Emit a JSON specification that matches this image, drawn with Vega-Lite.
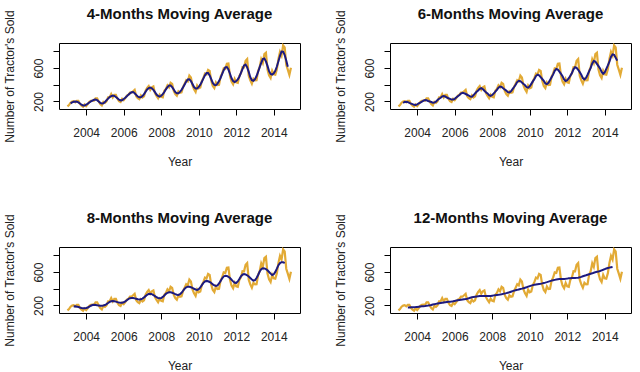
{
"$schema":"https://vega.github.io/schema/vega-lite/v6.json",
"padding":{"left":2,"top":6,"right":0,"bottom":0},
"datasets":{"sales":[
{"t":2003.0,"v":141},{"t":2003.0833,"v":157},{"t":2003.1667,"v":185},{"t":2003.25,"v":199},{"t":2003.3333,"v":203},{"t":2003.4167,"v":189},{"t":2003.5,"v":207},{"t":2003.5833,"v":207},{"t":2003.6667,"v":171},{"t":2003.75,"v":150},{"t":2003.8333,"v":138},{"t":2003.9167,"v":165},
{"t":2004.0,"v":145},{"t":2004.0833,"v":168},{"t":2004.1667,"v":197},{"t":2004.25,"v":208},{"t":2004.3333,"v":210},{"t":2004.4167,"v":209},{"t":2004.5,"v":238},{"t":2004.5833,"v":238},{"t":2004.6667,"v":199},{"t":2004.75,"v":168},{"t":2004.8333,"v":152},{"t":2004.9167,"v":196},
{"t":2005.0,"v":183},{"t":2005.0833,"v":200},{"t":2005.1667,"v":249},{"t":2005.25,"v":251},{"t":2005.3333,"v":289},{"t":2005.4167,"v":249},{"t":2005.5,"v":279},{"t":2005.5833,"v":279},{"t":2005.6667,"v":232},{"t":2005.75,"v":204},{"t":2005.8333,"v":194},{"t":2005.9167,"v":232},
{"t":2006.0,"v":215},{"t":2006.0833,"v":239},{"t":2006.1667,"v":270},{"t":2006.25,"v":279},{"t":2006.3333,"v":307},{"t":2006.4167,"v":305},{"t":2006.5,"v":322},{"t":2006.5833,"v":339},{"t":2006.6667,"v":263},{"t":2006.75,"v":241},{"t":2006.8333,"v":229},{"t":2006.9167,"v":272},
{"t":2007.0,"v":247},{"t":2007.0833,"v":261},{"t":2007.1667,"v":330},{"t":2007.25,"v":362},{"t":2007.3333,"v":385},{"t":2007.4167,"v":340},{"t":2007.5,"v":370},{"t":2007.5833,"v":381},{"t":2007.6667,"v":299},{"t":2007.75,"v":266},{"t":2007.8333,"v":239},{"t":2007.9167,"v":281},
{"t":2008.0,"v":257},{"t":2008.0833,"v":250},{"t":2008.1667,"v":329},{"t":2008.25,"v":350},{"t":2008.3333,"v":393},{"t":2008.4167,"v":370},{"t":2008.5,"v":423},{"t":2008.5833,"v":410},{"t":2008.6667,"v":326},{"t":2008.75,"v":289},{"t":2008.8333,"v":270},{"t":2008.9167,"v":321},
{"t":2009.0,"v":305},{"t":2009.0833,"v":310},{"t":2009.1667,"v":374},{"t":2009.25,"v":414},{"t":2009.3333,"v":454},{"t":2009.4167,"v":441},{"t":2009.5,"v":510},{"t":2009.5833,"v":486},{"t":2009.6667,"v":393},{"t":2009.75,"v":345},{"t":2009.8333,"v":315},{"t":2009.9167,"v":389},
{"t":2010.0,"v":358},{"t":2010.0833,"v":368},{"t":2010.1667,"v":444},{"t":2010.25,"v":482},{"t":2010.3333,"v":534},{"t":2010.4167,"v":524},{"t":2010.5,"v":578},{"t":2010.5833,"v":567},{"t":2010.6667,"v":447},{"t":2010.75,"v":386},{"t":2010.8333,"v":360},{"t":2010.9167,"v":428},
{"t":2011.0,"v":397},{"t":2011.0833,"v":400},{"t":2011.1667,"v":498},{"t":2011.25,"v":536},{"t":2011.3333,"v":596},{"t":2011.4167,"v":591},{"t":2011.5,"v":651},{"t":2011.5833,"v":654},{"t":2011.6667,"v":509},{"t":2011.75,"v":437},{"t":2011.8333,"v":406},{"t":2011.9167,"v":470},
{"t":2012.0,"v":428},{"t":2012.0833,"v":423},{"t":2012.1667,"v":507},{"t":2012.25,"v":536},{"t":2012.3333,"v":610},{"t":2012.4167,"v":609},{"t":2012.5,"v":687},{"t":2012.5833,"v":707},{"t":2012.6667,"v":509},{"t":2012.75,"v":452},{"t":2012.8333,"v":412},{"t":2012.9167,"v":472},
{"t":2013.0,"v":454},{"t":2013.0833,"v":455},{"t":2013.1667,"v":568},{"t":2013.25,"v":610},{"t":2013.3333,"v":706},{"t":2013.4167,"v":661},{"t":2013.5,"v":767},{"t":2013.5833,"v":783},{"t":2013.6667,"v":583},{"t":2013.75,"v":513},{"t":2013.8333,"v":481},{"t":2013.9167,"v":567},
{"t":2014.0,"v":525},{"t":2014.0833,"v":520},{"t":2014.1667,"v":587},{"t":2014.25,"v":710},{"t":2014.3333,"v":793},{"t":2014.4167,"v":749},{"t":2014.5,"v":871},{"t":2014.5833,"v":848},{"t":2014.6667,"v":640},{"t":2014.75,"v":581},{"t":2014.8333,"v":519},{"t":2014.9167,"v":605}
]},
"columns":2,
"spacing":{"row":42,"column":32},
"concat":[
{"width":241,"height":66,"data":{"name":"sales"},"title":"4-Months Moving Average",
 "resolve":{"axis":{"y":"independent"}},
 "layer":[
  {"mark":{"type":"line","color":"#E2AA35","strokeWidth":2.2},
   "encoding":{"x":{"field":"t","type":"quantitative","scale":{"domain":[2002.55,2015.4],"nice":false,"zero":false},"axis":{"title":"Year","values":[2004,2006,2008,2010,2012,2014],"format":"d"}},
    "y":{"field":"v","type":"quantitative","scale":{"domain":[110,900],"nice":false,"zero":false},"axis":{"title":"Number of Tractor's Sold","values":[200,600],"labelOverlap":false}}}},
  {"transform":[
    {"window":[{"op":"mean","field":"v","as":"a"},{"op":"count","as":"c"}],"frame":[-2,1],"sort":[{"field":"t"}]},
    {"filter":{"field":"c","equal":4}},
    {"window":[{"op":"mean","field":"a","as":"ma"},{"op":"count","as":"c2"}],"frame":[0,1],"sort":[{"field":"t"}]},
    {"filter":{"field":"c2","equal":2}}],
   "mark":{"type":"line","color":"#1C1A80","strokeWidth":2},
   "encoding":{"x":{"field":"t","type":"quantitative"},"y":{"field":"ma","type":"quantitative","axis":{"orient":"left","values":[400,800],"labels":false,"title":null}}}}
 ]},
{"width":241,"height":66,"data":{"name":"sales"},"title":"6-Months Moving Average",
 "resolve":{"axis":{"y":"independent"}},
 "layer":[
  {"mark":{"type":"line","color":"#E2AA35","strokeWidth":2.2},
   "encoding":{"x":{"field":"t","type":"quantitative","scale":{"domain":[2002.55,2015.4],"nice":false,"zero":false},"axis":{"title":"Year","values":[2004,2006,2008,2010,2012,2014],"format":"d"}},
    "y":{"field":"v","type":"quantitative","scale":{"domain":[110,900],"nice":false,"zero":false},"axis":{"title":"Number of Tractor's Sold","values":[200,600],"labelOverlap":false}}}},
  {"transform":[
    {"window":[{"op":"mean","field":"v","as":"a"},{"op":"count","as":"c"}],"frame":[-3,2],"sort":[{"field":"t"}]},
    {"filter":{"field":"c","equal":6}},
    {"window":[{"op":"mean","field":"a","as":"ma"},{"op":"count","as":"c2"}],"frame":[0,1],"sort":[{"field":"t"}]},
    {"filter":{"field":"c2","equal":2}}],
   "mark":{"type":"line","color":"#1C1A80","strokeWidth":2},
   "encoding":{"x":{"field":"t","type":"quantitative"},"y":{"field":"ma","type":"quantitative","axis":{"orient":"left","values":[400,800],"labels":false,"title":null}}}}
 ]},
{"width":241,"height":66,"data":{"name":"sales"},"title":"8-Months Moving Average",
 "resolve":{"axis":{"y":"independent"}},
 "layer":[
  {"mark":{"type":"line","color":"#E2AA35","strokeWidth":2.2},
   "encoding":{"x":{"field":"t","type":"quantitative","scale":{"domain":[2002.55,2015.4],"nice":false,"zero":false},"axis":{"title":"Year","values":[2004,2006,2008,2010,2012,2014],"format":"d"}},
    "y":{"field":"v","type":"quantitative","scale":{"domain":[110,900],"nice":false,"zero":false},"axis":{"title":"Number of Tractor's Sold","values":[200,600],"labelOverlap":false}}}},
  {"transform":[
    {"window":[{"op":"mean","field":"v","as":"a"},{"op":"count","as":"c"}],"frame":[-4,3],"sort":[{"field":"t"}]},
    {"filter":{"field":"c","equal":8}},
    {"window":[{"op":"mean","field":"a","as":"ma"},{"op":"count","as":"c2"}],"frame":[0,1],"sort":[{"field":"t"}]},
    {"filter":{"field":"c2","equal":2}}],
   "mark":{"type":"line","color":"#1C1A80","strokeWidth":2},
   "encoding":{"x":{"field":"t","type":"quantitative"},"y":{"field":"ma","type":"quantitative","axis":{"orient":"left","values":[400,800],"labels":false,"title":null}}}}
 ]},
{"width":241,"height":66,"data":{"name":"sales"},"title":"12-Months Moving Average",
 "resolve":{"axis":{"y":"independent"}},
 "layer":[
  {"mark":{"type":"line","color":"#E2AA35","strokeWidth":2.2},
   "encoding":{"x":{"field":"t","type":"quantitative","scale":{"domain":[2002.55,2015.4],"nice":false,"zero":false},"axis":{"title":"Year","values":[2004,2006,2008,2010,2012,2014],"format":"d"}},
    "y":{"field":"v","type":"quantitative","scale":{"domain":[110,900],"nice":false,"zero":false},"axis":{"title":"Number of Tractor's Sold","values":[200,600],"labelOverlap":false}}}},
  {"transform":[
    {"window":[{"op":"mean","field":"v","as":"a"},{"op":"count","as":"c"}],"frame":[-6,5],"sort":[{"field":"t"}]},
    {"filter":{"field":"c","equal":12}},
    {"window":[{"op":"mean","field":"a","as":"ma"},{"op":"count","as":"c2"}],"frame":[0,1],"sort":[{"field":"t"}]},
    {"filter":{"field":"c2","equal":2}}],
   "mark":{"type":"line","color":"#1C1A80","strokeWidth":2},
   "encoding":{"x":{"field":"t","type":"quantitative"},"y":{"field":"ma","type":"quantitative","axis":{"orient":"left","values":[400,800],"labels":false,"title":null}}}}
 ]}
],
"config":{
 "font":"Liberation Sans",
 "view":{"stroke":"#000000","strokeWidth":1},
 "title":{"fontSize":15,"fontWeight":"bold","color":"#111111","offset":-12,"anchor":"middle"},
 "axis":{"grid":false,"domain":false,"tickColor":"#000000","tickSize":6,"labelFontSize":12,"labelColor":"#222222","titleFontSize":12,"titleFontWeight":"normal","titleColor":"#222222","labelFlush":false,"labelOverlap":false},
 "axisX":{"labelPadding":12,"titlePadding":18},
 "axisY":{"labelAngle":-90,"labelPadding":8,"titlePadding":16}
}
}
